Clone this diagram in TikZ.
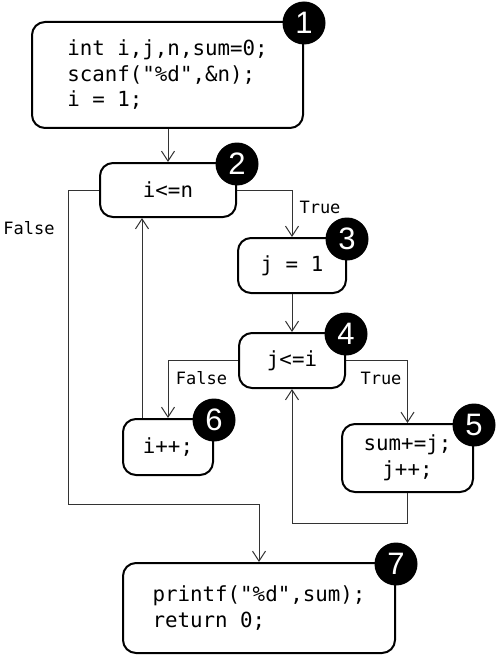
\documentclass[tikz,border=0pt]{standalone}
\usepackage{fontspec}
\setmonofont{DejaVu Sans Mono}
\setsansfont{Liberation Sans}
\usetikzlibrary{arrows.meta}

\begin{document}
\begin{tikzpicture}[x=1pt,y=-1pt,
  box/.style={draw, line width=2pt, rounded corners=13pt, font=\ttfamily\fontsize{20.8}{25.5}\selectfont, inner sep=0pt},
  num/.style={circle, fill=black, text=white, minimum size=43pt, inner sep=0pt, font=\sffamily\fontsize{31}{31}\selectfont},
  arr/.style={draw=black!80, line width=1pt, -{Straight Barb[length=10pt,width=13pt]}},
  lbl/.style={font=\ttfamily\fontsize{17}{17}\selectfont}]
\useasboundingbox (0,0) rectangle (498,658);

% boxes
\node (box_1)[box, minimum width=271pt, minimum height=106pt, align=left] at (167.5,75) {int i,j,n,sum=0;\\scanf("\%d",\&n);\\i = 1;};
\node (box_2)[box, minimum width=136pt, minimum height=54pt] at (168,190) {i<=n};
\node (box_3)[box, minimum width=108pt, minimum height=55pt] at (292,265.5) {j = 1};
\node (box_4)[box, minimum width=106pt, minimum height=55pt] at (292,360.5) {j<=i};
\node (box_5)[box, minimum width=131pt, minimum height=68pt, align=center] at (407.5,458) {sum+=j;\\j++;};
\node (box_6)[box, minimum width=90pt, minimum height=56pt] at (168,447) {i++;};
\node (box_7)[box, minimum width=272pt, minimum height=90pt, align=left] at (259,608) {printf("\%d",sum);\\return 0;};

% numbers
\foreach \i in {1,...,7}
  \node (num_\i)[num] at ([yshift=-2pt]box_\i.north east) {\i};

% corners of the long lines
\coordinate (out_1) at (68,504);
\coordinate (loop_1) at (292,523);

% connectors
\draw [arr] (box_1.south -| box_2) -- (box_2.north);
\draw [arr] (box_2.east) -| (box_3.north);
\draw [arr] (box_2.west) -| (out_1) -| (box_7.north);
\draw [arr] (box_3.south) -- (box_4.north);
\draw [arr] (box_4.west) -| (box_6.north);
\draw [arr] (box_4.east) -| (box_5.north);
\draw [arr] (box_5.south) |- (loop_1) -- (box_4.south);
\draw [arr] ([xshift=-26pt]box_6.north) -- ([xshift=-26pt]box_6.north |- box_2.south);

% labels
\node (true_1)[lbl] at (320,207) {True};
\node (false_1)[lbl] at (29,228) {False};
\node (false_2)[lbl] at (201.5,378) {False};
\node (true_2)[lbl] at (381,378) {True};
\end{tikzpicture}
\end{document}
